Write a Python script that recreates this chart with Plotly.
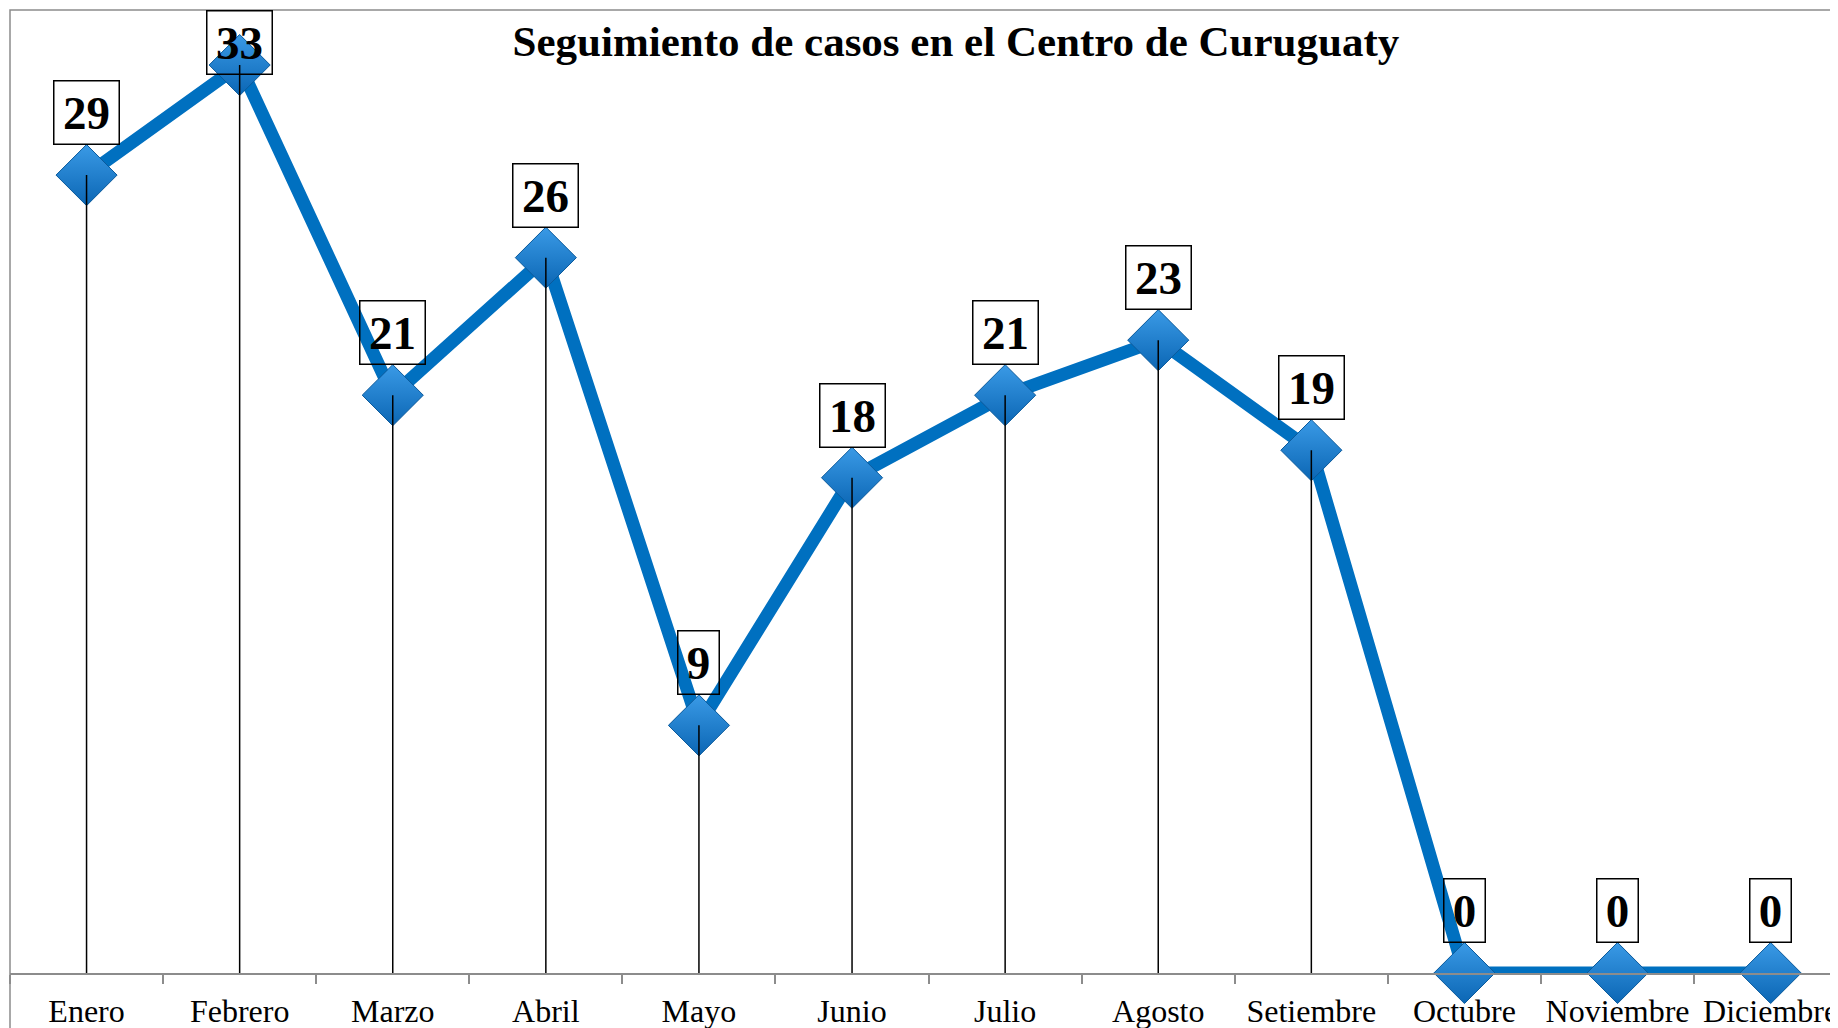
import plotly.graph_objects as go

months = ["Enero", "Febrero", "Marzo", "Abril", "Mayo", "Junio", "Julio",
          "Agosto", "Setiembre", "Octubre", "Noviembre", "Diciembre"]
cases = [29, 33, 21, 26, 9, 18, 21, 23, 19, 0, 0, 0]
title_text = "Seguimiento de casos en el Centro de Curuguaty"

Y_MAX = 35
# the page body adds an 8px offset, so the figure is 8px smaller
W, H = 1830, 1020
M_L, M_T, M_R, M_B = 2, 2, 0, 55
plot_h = H - M_T - M_B
px_per_unit = plot_h / Y_MAX

fig = go.Figure()

fig.add_trace(go.Scatter(
    x=months, y=cases, mode="lines+markers",
    line=dict(color="#0070C0", width=13),
    marker=dict(symbol="diamond", size=47, color="#3a9ae6",
                gradient=dict(type="vertical", color="#0b66b4"),
                line=dict(color="#0a5a9c", width=1)),
    cliponaxis=False, showlegend=False, hoverinfo="skip"))

# drop lines from each point to the axis
dx, dy = [], []
for m, v in zip(months, cases):
    dx += [m, m, None]
    dy += [v, 0, None]
fig.add_trace(go.Scatter(x=dx, y=dy, mode="lines",
                         line=dict(color="black", width=1.5),
                         showlegend=False, hoverinfo="skip", cliponaxis=False))

label_h = 62
marker_half = 30
for m, v in zip(months, cases):
    txt = str(v)
    w = 24 * len(txt) + 16
    needed = (v * px_per_unit + marker_half + label_h) / px_per_unit
    if needed > Y_MAX:
        kw = dict(yref="paper", y=1, yanchor="top", yshift=0)
    else:
        kw = dict(yref="y", y=v, yanchor="bottom", yshift=marker_half)
    fig.add_annotation(x=m, xref="x", text="<b>%s</b>" % txt, showarrow=False,
                       font=dict(family="Liberation Serif", size=47, color="black"),
                       bordercolor="black", borderwidth=1.5, borderpad=0,
                       bgcolor="rgba(0,0,0,0)", width=w, height=label_h,
                       align="center", valign="middle", **kw)

fig.update_layout(
    width=W, height=H,
    margin=dict(l=M_L, r=M_R, t=M_T, b=M_B, pad=0),
    paper_bgcolor="white", plot_bgcolor="white",
    title=dict(text="<b>%s</b>" % title_text, x=0.518, xanchor="center",
               y=0.968, yanchor="middle",
               font=dict(family="Liberation Serif", size=43, color="black")),
    xaxis=dict(type="category", range=[-0.5, 11.44], showgrid=False,
               showline=True, linecolor="#8c8c8c", linewidth=1.5,
               ticks="outside", tickson="boundaries", ticklen=9,
               tickcolor="#8c8c8c", tickwidth=1.5, tickangle=0, automargin=False,
               tickfont=dict(family="Liberation Serif", size=32, color="black"),
               ticklabelstandoff=9, zeroline=False),
    yaxis=dict(range=[0, Y_MAX], visible=False, showgrid=False, zeroline=False),
    shapes=[dict(type="rect", xref="paper", yref="paper",
                 x0=0, x1=1.05, y0=-0.2, y1=1,
                 line=dict(color="#8c8c8c", width=1.5), layer="below")],
)

fig.write_html("out.html")
